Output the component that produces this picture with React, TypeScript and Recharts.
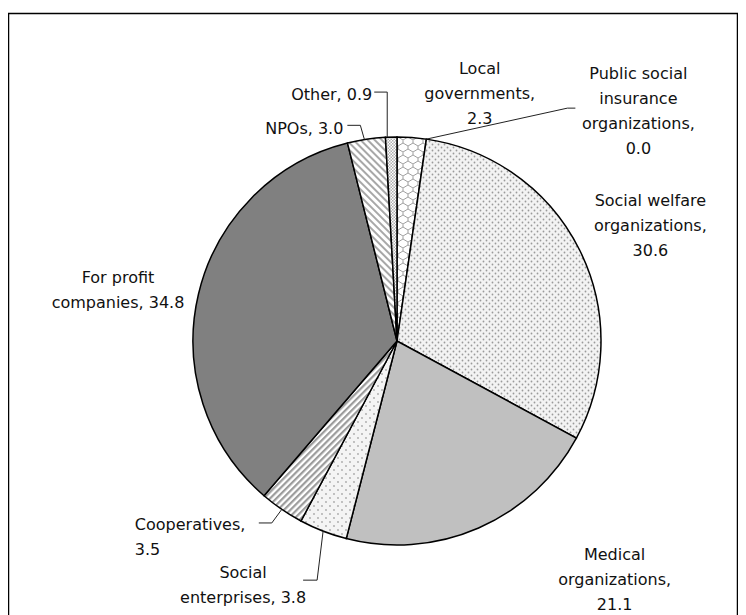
import React from 'react';
import { PieChart, Pie, Cell } from 'recharts';

// Share of providers by type (%)
const categories = [
  'Local governments',
  'Public social insurance organizations',
  'Social welfare organizations',
  'Medical organizations',
  'Social enterprises',
  'Cooperatives',
  'For profit companies',
  'NPOs',
  'Other',
];
const shares = [2.3, 0.0, 30.6, 21.1, 3.8, 3.5, 34.8, 3.0, 0.9];

// How each category name is broken over lines in its label
const nameLines = [
  ['Local', 'governments'],
  ['Public social', 'insurance', 'organizations'],
  ['Social welfare', 'organizations'],
  ['Medical', 'organizations'],
  ['Social', 'enterprises'],
  ['Cooperatives'],
  ['For profit', 'companies'],
  ['NPOs'],
  ['Other'],
];
// Whether the value goes on its own line below the name
const valueOnOwnLine = [true, true, true, true, false, true, false, false, false];

const fills = [
  'url(#pat-lattice)',
  '#ffffff',
  'url(#pat-dots-fine)',
  '#c0c0c0',
  'url(#pat-dots-sparse)',
  'url(#pat-stripes-up)',
  '#808080',
  'url(#pat-stripes-down)',
  'url(#pat-check)',
];

type Layout = {
  anchor: 'start' | 'middle' | 'end';
  dx: number;
  dy: number;
  leader?: [number, number][];
};

// Label placement relative to the point where each slice's mid-angle meets the rim
const labelLayout: Layout[] = [
  { anchor: 'middle', dx: 68, dy: -69.5 },
  { anchor: 'middle', dx: 212, dy: -66, leader: [[0, 0], [141, -31], [149, -31]] },
  { anchor: 'middle', dx: 71, dy: -49.5 },
  { anchor: 'middle', dx: 136, dy: 27 },
  { anchor: 'middle', dx: -80, dy: 41, leader: [[0, 0], [-6, 49], [-20, 49]] },
  { anchor: 'start', dx: -147, dy: 15.6, leader: [[0, 0], [-10, 13.6], [-23, 13.6]] },
  { anchor: 'middle', dx: -80.5, dy: -17 },
  { anchor: 'end', dx: -23, dy: -11, leader: [[-2, 0], [-6, -14], [-19, -14]] },
  { anchor: 'end', dx: -19, dy: -43, leader: [[-4, 0], [-4, -45], [-17, -45]] },
];

const data = categories.map((name, i) => ({ name, value: shares[i] }));

const LINE_HEIGHT = 25;
const FONT = '"DejaVu Sans", sans-serif';
const RAD = Math.PI / 180;

function labelText(i: number): string[] {
  const lines = nameLines[i].slice();
  const v = shares[i].toFixed(1);
  const last = lines.length - 1;
  if (valueOnOwnLine[i]) {
    lines[last] = lines[last] + ',';
    lines.push(v);
  } else {
    lines[last] = `${lines[last]}, ${v}`;
  }
  return lines;
}

const renderLabel = (props: any) => {
  const { cx, cy, midAngle, outerRadius, index } = props;
  const layout = labelLayout[index];
  if (!layout) return null;
  const ex = cx + Math.cos(-midAngle * RAD) * outerRadius;
  const ey = cy + Math.sin(-midAngle * RAD) * outerRadius;
  const lines = labelText(index);
  return (
    <g key={`label-${index}`}>
      {layout.leader && (
        <polyline
          points={layout.leader.map(([x, y]) => `${ex + x},${ey + y}`).join(' ')}
          fill="none"
          stroke="#222"
          strokeWidth={1}
        />
      )}
      <text textAnchor={layout.anchor} fontFamily={FONT} fontSize={16} fill="#111">
        {lines.map((t, k) => (
          <tspan
            key={k}
            x={ex + layout.dx}
            y={ey + layout.dy + k * LINE_HEIGHT}
            dominantBaseline="central"
          >
            {t}
          </tspan>
        ))}
      </text>
    </g>
  );
};

function Patterns() {
  return (
    <svg width={0} height={0} style={{ position: 'absolute' }}>
      <defs>
        <pattern id="pat-dots-fine" width={6} height={6} patternUnits="userSpaceOnUse">
          <rect width={6} height={6} fill="#f3f3f3" />
          <circle cx={1.5} cy={1.5} r={0.9} fill="#9a9a9a" />
          <circle cx={4.5} cy={4.5} r={0.9} fill="#9a9a9a" />
        </pattern>
        <pattern id="pat-dots-sparse" width={8} height={8} patternUnits="userSpaceOnUse">
          <rect width={8} height={8} fill="#f4f4f4" />
          <circle cx={2} cy={2} r={0.9} fill="#a8a8a8" />
          <circle cx={6} cy={6} r={0.9} fill="#a8a8a8" />
        </pattern>
        <pattern
          id="pat-stripes-up"
          width={4.5}
          height={4.5}
          patternUnits="userSpaceOnUse"
          patternTransform="rotate(45)"
        >
          <rect width={4.5} height={4.5} fill="#ffffff" />
          <rect width={2.2} height={4.5} fill="#9c9c9c" />
        </pattern>
        <pattern
          id="pat-stripes-down"
          width={5}
          height={5}
          patternUnits="userSpaceOnUse"
          patternTransform="rotate(-45)"
        >
          <rect width={5} height={5} fill="#ffffff" />
          <rect width={2} height={5} fill="#a8a8a8" />
        </pattern>
        <pattern id="pat-check" width={3} height={3} patternUnits="userSpaceOnUse">
          <rect width={3} height={3} fill="#ffffff" />
          <rect width={1.5} height={1.5} fill="#b0b0b0" />
          <rect x={1.5} y={1.5} width={1.5} height={1.5} fill="#b0b0b0" />
        </pattern>
        <pattern id="pat-lattice" width={10} height={12} patternUnits="userSpaceOnUse">
          <rect width={10} height={12} fill="#ffffff" />
          <path
            d="M5 0 V3 L0 6 V9 L5 12 M5 3 L10 6 V9 L5 12"
            fill="none"
            stroke="#a0a0a0"
            strokeWidth={1}
          />
        </pattern>
      </defs>
    </svg>
  );
}

export default function App() {
  const W = 730;
  const H = 607;
  return (
    <div style={{ position: 'relative', width: W, height: H }}>
      {/* the chart runs to the bottom edge of the window */}
      <style>{'html, body { overflow: hidden; }'}</style>
      <Patterns />
      {/* open frame: top, left and right edges */}
      <svg width={W} height={H} style={{ position: 'absolute', left: 0, top: 0 }}>
        <path d={`M0.5 ${H} V5.5 H${W - 0.5} V${H}`} fill="none" stroke="#000" strokeWidth={1.5} />
      </svg>
      <div style={{ position: 'absolute', left: 0, top: 0 }}>
        <PieChart width={W} height={H} margin={{ top: 0, right: 0, bottom: 0, left: 0 }}>
          <Pie
            data={data}
            dataKey="value"
            nameKey="name"
            cx={389}
            cy={333}
            outerRadius={204}
            startAngle={90}
            endAngle={-270}
            stroke="#000"
            strokeWidth={1.5}
            label={renderLabel}
            labelLine={false}
            isAnimationActive={false}
          >
            {data.map((d, i) => (
              <Cell key={d.name} fill={fills[i]} />
            ))}
          </Pie>
        </PieChart>
      </div>
    </div>
  );
}
